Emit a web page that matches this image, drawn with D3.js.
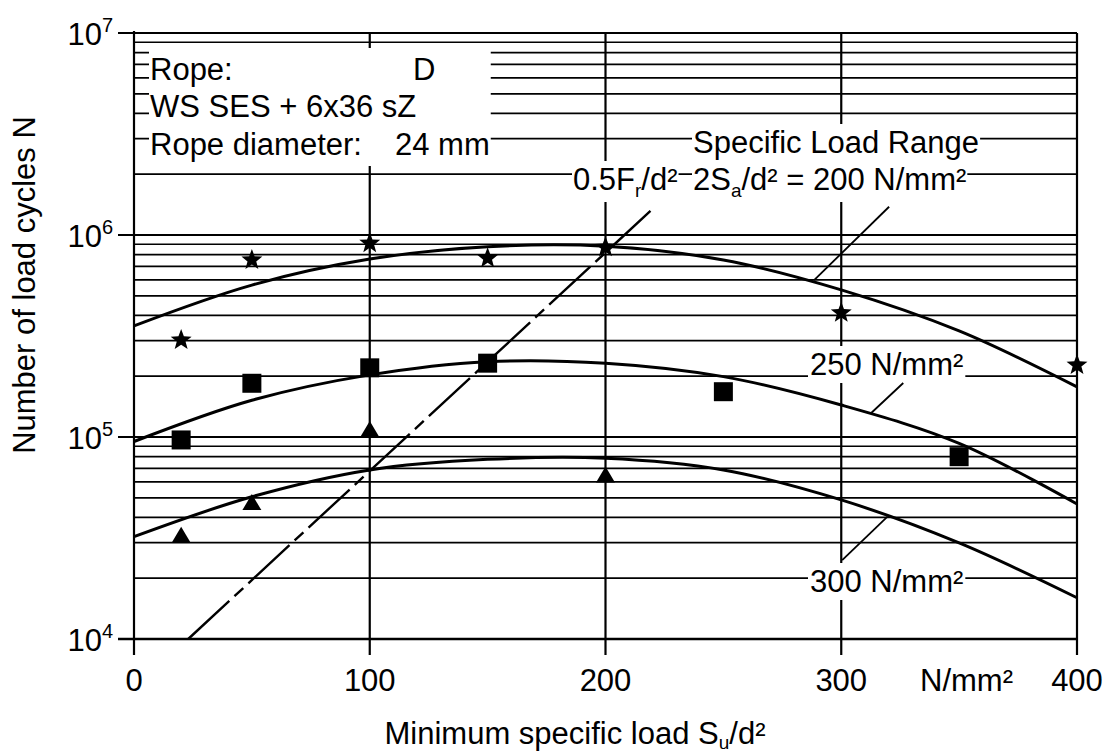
<!DOCTYPE html>
<html>
<head>
<meta charset="utf-8">
<script src="https://cdn.jsdelivr.net/npm/d3@7"></script>
<style>
  body { margin: 0; background: #fff; }
  text { font-family: "Liberation Sans", Arial, sans-serif; fill: #000; }
</style>
</head>
<body>
<svg id="chart" width="1108" height="754"></svg>
<script>
// curve abscissae (minimum specific load, N/mm²)
const loadX = [0, 50, 100, 150, 200, 250, 300, 350, 400];
// fitted curves, number of load cycles N
const curve200 = [355e3, 565e3, 760e3, 875e3, 880e3, 752e3, 535e3, 335e3, 177e3];
const curve250 = [95e3, 152e3, 203e3, 236e3, 232e3, 199e3, 144e3, 93e3, 46.6e3];
const curve300 = [32.1e3, 50.6e3, 68.7e3, 77.5e3, 78.5e3, 68.7e3, 48.8e3, 29.9e3, 16e3];

// test results
const starX = [20, 50, 100, 150, 200, 300, 400];
const starN = [302e3, 752e3, 910e3, 767e3, 869e3, 412e3, 227e3];
const squareX = [20, 50, 100, 150, 250, 350];
const squareN = [96.7e3, 184.5e3, 220e3, 232e3, 167.6e3, 79.9e3];
const triangleX = [20, 50, 100, 200];
const triangleN = [32.8e3, 47.6e3, 109.6e3, 65.2e3];

// boundary 0.5Fr/d² (dash-dot line)
const boundaryX = [23, 221];
const boundaryN = [1e4, 1.38e6];

// leader lines [curve point, label end]
const leader200 = [[288.5, 598e3], [320.3, 1.38e6]];
const leader250 = [[312.7, 131.5e3], [326.3, 185e3]];
const leader300 = [[319.5, 40.2e3], [300.4, 24.6e3]];

const xTicks = [0, 100, 200, 300, 400];
const yTickExp = [4, 5, 6, 7];

const svg = d3.select("#chart");
const x = d3.scaleLinear().domain([0, 400]).range([134, 1077]);
const y = d3.scaleLog().domain([1e4, 1e7]).range([639, 33]);

const gGrid = svg.append("g");
const gBg = svg.append("g");
const gPlot = svg.append("g");
const gText = svg.append("g");

const isDecade = d => Math.abs(Math.log10(d) - Math.round(Math.log10(d))) < 1e-6;

// horizontal grid
gGrid.selectAll("line.h")
  .data(y.ticks())
  .join("line")
  .attr("x1", d => isDecade(d) ? 118 : x(0))
  .attr("x2", x(400))
  .attr("y1", d => y(d))
  .attr("y2", d => y(d))
  .attr("stroke", "#000")
  .attr("stroke-width", d => isDecade(d) ? 2 : 1.7);

// vertical grid + ticks
gGrid.selectAll("line.v")
  .data(xTicks)
  .join("line")
  .attr("x1", d => x(d))
  .attr("x2", d => x(d))
  .attr("y1", d => d === 0 ? 31 : y(1e7))
  .attr("y2", 655)
  .attr("stroke", "#000")
  .attr("stroke-width", 2.2);

// x axis line
gGrid.append("line")
  .attr("x1", 118).attr("x2", x(400))
  .attr("y1", y(1e4)).attr("y2", y(1e4))
  .attr("stroke", "#000").attr("stroke-width", 2.4);

function richText(g, px, py, parts, size, anchor) {
  const t = g.append("text")
    .attr("x", px).attr("y", py)
    .attr("font-size", size)
    .attr("text-anchor", anchor || "start");
  let shift = 0;
  parts.forEach(p => {
    const s = t.append("tspan").text(p.t);
    const target = p.sub ? (p.dy || 7) : p.sup ? -13 : 0;
    if (target !== shift) s.attr("dy", target - shift);
    shift = target;
    if (p.sub || p.sup) s.attr("font-size", p.size || Math.round(size * 0.62));
  });
  return t;
}

function whiteBox(nodes, padX, padY) {
  const boxes = nodes.map(n => n.node().getBBox());
  const x0 = d3.min(boxes, b => b.x) - padX;
  const x1 = d3.max(boxes, b => b.x + b.width) + padX;
  const y0 = d3.min(boxes, b => b.y) - padY;
  const y1 = d3.max(boxes, b => b.y + b.height) + padY;
  gBg.append("rect")
    .attr("x", x0).attr("y", y0)
    .attr("width", x1 - x0).attr("height", y1 - y0)
    .attr("fill", "#fff");
}

const FS = 31;

// rope info box
const rope = [
  richText(gText, 150, 80, [{ t: "Rope:" }], FS),
  richText(gText, 413, 80, [{ t: "D" }], FS),
  richText(gText, 150, 117, [{ t: "WS SES + 6x36 sZ" }], FS),
  richText(gText, 150, 155, [{ t: "Rope diameter:" }], FS),
  richText(gText, 395, 155, [{ t: "24 mm" }], FS)
];
whiteBox(rope, 1, 4);

const lblRange = richText(gText, 693, 153, [{ t: "Specific Load Range" }], FS);
whiteBox([lblRange], 1, 1);
const lblFr = richText(gText, 573, 190, [{ t: "0.5F" }, { t: "r", sub: true }, { t: "/d²" }], FS);
whiteBox([lblFr], 1, 1);
const lbl200 = richText(gText, 693, 190, [{ t: "2S" }, { t: "a", sub: true }, { t: "/d² = 200 N/mm²" }], FS);
whiteBox([lbl200], 1, 1);
const lbl250 = richText(gText, 810, 375, [{ t: "250 N/mm²" }], FS);
whiteBox([lbl250], 2, 1);
const lbl300 = richText(gText, 810, 592, [{ t: "300 N/mm²" }], FS);
whiteBox([lbl300], 2, 1);

// axis labels
xTicks.forEach(v => richText(gText, x(v), 691, [{ t: String(v) }], FS, "middle"));
richText(gText, 920, 691, [{ t: "N/mm²" }], FS);
richText(gText, 575, 744, [{ t: "Minimum specific load S" }, { t: "u", sub: true, dy: 5 }, { t: "/d²" }], FS, "middle");
yTickExp.forEach(e => richText(gText, 113, y(Math.pow(10, e)) + 11.5,
  [{ t: "10" }, { t: String(e), sup: true, size: 20 }], 31, "end"));
gText.append("text")
  .attr("transform", "translate(35,285) rotate(-90)")
  .attr("text-anchor", "middle")
  .attr("font-size", FS)
  .text("Number of load cycles N");

// curves
const line = d3.line()
  .x(d => x(d[0]))
  .y(d => y(d[1]))
  .curve(d3.curveCatmullRom.alpha(0.5));

[curve200, curve250, curve300].forEach(c => {
  gPlot.append("path")
    .attr("d", line(loadX.map((v, i) => [v, c[i]])))
    .attr("fill", "none")
    .attr("stroke", "#000")
    .attr("stroke-width", 3);
});

// boundary line
gPlot.append("path")
  .attr("d", d3.line().x(d => x(d[0])).y(d => y(d[1]))(boundaryX.map((v, i) => [v, boundaryN[i]])))
  .attr("fill", "none")
  .attr("stroke", "#000")
  .attr("stroke-width", 2.4)
  .attr("stroke-dasharray", "56,7,12,7");

// leaders
[leader200, leader250, leader300].forEach(l => {
  gPlot.append("line")
    .attr("x1", x(l[0][0])).attr("y1", y(l[0][1]))
    .attr("x2", x(l[1][0])).attr("y2", y(l[1][1]))
    .attr("stroke", "#000")
    .attr("stroke-width", 1.8);
});

// markers
function starPath(R, r) {
  const pts = d3.range(10).map(i => {
    const a = -Math.PI / 2 + i * Math.PI / 5;
    const rad = i % 2 ? r : R;
    return [rad * Math.cos(a), rad * Math.sin(a)];
  });
  return "M" + pts.map(p => p.join(",")).join("L") + "Z";
}
const starD = starPath(11, 4.6);
const squareD = "M-9.5,-9.5H9.5V9.5H-9.5Z";
const triD = "M0,-8L9.5,8H-9.5Z";

function markers(xs, ns, d) {
  gPlot.append("g")
    .selectAll("path")
    .data(xs.map((v, i) => [v, ns[i]]))
    .join("path")
    .attr("d", d)
    .attr("transform", p => `translate(${x(p[0])},${y(p[1])})`)
    .attr("fill", "#000");
}
markers(starX, starN, starD);
markers(squareX, squareN, squareD);
markers(triangleX, triangleN, triD);
</script>
</body>
</html>
